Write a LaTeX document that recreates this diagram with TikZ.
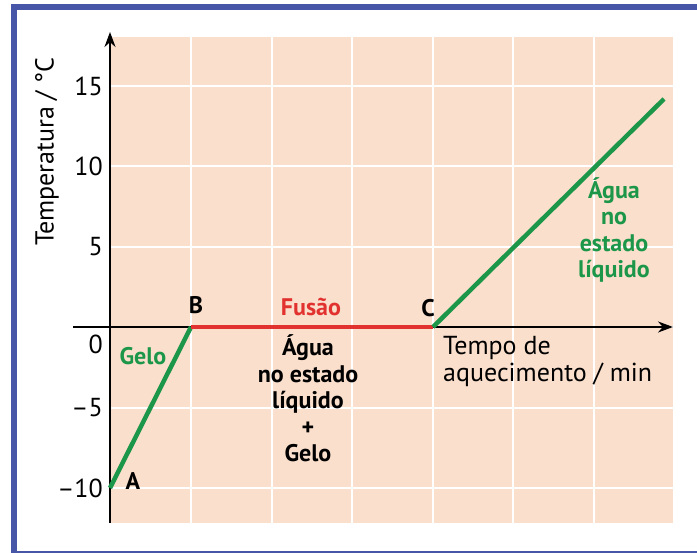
\documentclass[tikz,border=0pt]{standalone}
\usepackage{fontspec}
\setmainfont{PT Sans}
\usetikzlibrary{arrows.meta}
\definecolor{frameblue}{RGB}{72,86,168}
\definecolor{peach}{RGB}{250,223,204}
\definecolor{curvegreen}{RGB}{28,150,72}
\definecolor{fusred}{RGB}{226,50,48}
\begin{document}
\begin{tikzpicture}[x=1pt,y=-1pt,
  font=\fontsize{26}{27}\selectfont,
  grid/.style={white,line width=2},
  axis/.style={black,line width=2,-{Stealth[length=15,width=11]}},
  seg/.style={line width=4.5},
  tick/.style={anchor=east,inner sep=0},
  ptlabel/.style={font=\fontsize{24}{26.5}\selectfont\bfseries,inner sep=0},
  boldtext/.style={font=\fontsize{24}{26.5}\selectfont\bfseries,align=center,inner sep=0}]
\useasboundingbox (0,0) rectangle (697,553);
\begin{scope}
  \clip (0,0) rectangle (697,553);
  \draw[frameblue,line width=6] (13.5,7) rectangle (705,554);
\end{scope}
\fill[peach] (110,37) rectangle (673,523);
\foreach \x in {191,272,352,433,513,594} \draw[grid] (\x,37) -- (\x,523);
\foreach \y in {86,166,247,327,408,488} \draw[grid] (110,\y) -- (673,\y);
% axes
\coordinate (xs) at (73,327);
\coordinate (xe) at (673,327);
\coordinate (ys) at (110,523);
\coordinate (ye) at (110,32);
\draw[axis] (xs) -- (xe);
\draw[axis] (ys) -- (ye);
% ticks
\node[tick] (t15) at (103,86) {15};
\node[tick] (t10) at (103,166) {10};
\node[tick] (t5) at (103,247) {5};
\node[tick] (t0) at (103,344) {0};
\node[tick] (tm5) at (103,408) {–5};
\node[tick] (tm10) at (103,488) {–10};
\node[rotate=90,inner sep=0] (ylab) at (47,152) {Temperatura / °C};
\node[anchor=base west,align=left,inner sep=0] (xlab) at (443,382) {Tempo de\\aquecimento / min};
% curve
\coordinate (A) at (110,488);
\coordinate (B) at (191,327);
\coordinate (C) at (433,327);
\coordinate (D) at (664,99);
\draw[seg,curvegreen] (A) -- (B);
\draw[seg,fusred] (B) -- (C);
\draw[seg,curvegreen] (C) -- (D);
% labels
\node[ptlabel] (lA) at (133,481) {A};
\node[ptlabel] (lB) at (196,305) {B};
\node[ptlabel] (lC) at (428,308) {C};
\node[ptlabel,fusred,anchor=base] (fus) at (311,316) {Fusão};
\node[ptlabel,curvegreen] (gelo) at (143,356) {Gelo};
\node[boldtext,anchor=base] (mix) at (308,462) {Água\\no estado\\líquido\\+\\Gelo};
\node[boldtext,curvegreen,anchor=base] (liq) at (614,278) {Água\\no\\estado\\líquido};
\end{tikzpicture}
\end{document}
